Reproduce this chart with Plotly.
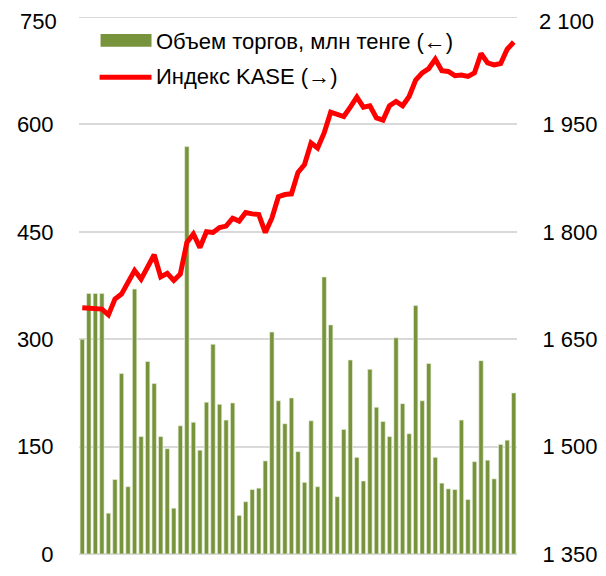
import plotly.graph_objects as go

# Trading volume, mln tenge (left axis)
volume = [300, 364, 364, 364, 57, 104, 252, 94, 370, 164, 269, 238, 164, 147, 64, 179, 569,
          184, 145, 212, 293, 209, 187, 211, 54, 73, 90, 92, 130, 310, 214, 182, 218,
          143, 100, 186, 94, 387, 320, 80, 174, 271, 135, 102, 258, 205, 185, 164, 302, 210,
          168, 347, 214, 266, 135, 99, 91, 90, 187, 76, 129, 270, 131, 105, 153, 159, 225]

# KASE index (right axis)
kase = [1694, 1693, 1692, 1692, 1684, 1706, 1713, 1730, 1746, 1734, 1753, 1768, 1737, 1742, 1732, 1741,
        1785, 1797, 1778, 1800, 1799, 1806, 1808, 1819, 1815, 1827, 1825, 1824, 1799, 1819, 1849, 1852,
        1853, 1883, 1894, 1924, 1917, 1938, 1967, 1964, 1961, 1974, 1988, 1974, 1976, 1959, 1956, 1976,
        1982, 1976, 1989, 2012, 2022, 2028, 2041, 2025, 2024, 2018, 2019, 2017, 2022, 2049, 2036, 2033,
        2035, 2055, 2065]

periods = list(range(1, len(volume) + 1))

left_ticks = [0, 150, 300, 450, 600, 750]
right_ticks = [1350, 1500, 1650, 1800, 1950, 2100]
left_range = [0, 750]
right_range = [1350, 2100]

bar_name = "Объем торгов, млн тенге (←)"
line_name = "Индекс KASE (→)"

BAR_COLOR = "#77933C"
LINE_COLOR = "#FF0000"
GRID = "#d9d9d9"
FONT = "Liberation Sans, Arial, sans-serif"
FS = 22

# page body has an 8px margin; figure is sized so the plot lands where the reference has it
OFF = 8
FIG_W, FIG_H = 606 - OFF, 576 - OFF
PL, PR, PT, PB = 73, 520, 17, 557  # plot area in window pixels
L, R, T, B = PL - OFF, 606 - PR, PT - OFF, 576 - PB
W, H = PR - PL, PB - PT

fig = go.Figure()
fig.add_trace(go.Bar(
    x=periods, y=volume, name=bar_name, yaxis="y",
    marker=dict(color=BAR_COLOR, line=dict(color="rgba(235,241,222,0.9)", width=0.7)),
    showlegend=False,
))
fig.add_trace(go.Scatter(
    x=periods, y=kase, name=line_name, yaxis="y2", mode="lines",
    line=dict(color=LINE_COLOR, width=5), showlegend=False,
))


def px(x):
    return (x - PL) / W


def py(y):
    return (PB - y) / H


def fmt(v):
    return f"{v:,}".replace(",", " ")


# Legend drawn manually (wide keys as in the reference)
fig.add_shape(type="rect", xref="paper", yref="paper",
              x0=px(95), x1=px(147), y0=py(47), y1=py(34),
              fillcolor=BAR_COLOR, line=dict(width=0))
fig.add_shape(type="line", xref="paper", yref="paper",
              x0=px(94), x1=px(147), y0=py(77.5), y1=py(77.5),
              line=dict(color=LINE_COLOR, width=5))
fig.add_annotation(xref="paper", yref="paper", x=px(150), y=py(42), xanchor="left", yanchor="middle",
                   text=bar_name, showarrow=False,
                   font=dict(size=FS, color="#000000", family=FONT))
fig.add_annotation(xref="paper", yref="paper", x=px(150), y=py(77), xanchor="left", yanchor="middle",
                   text=line_name, showarrow=False,
                   font=dict(size=FS, color="#000000", family=FONT))

# top gridline and top tick labels (plotly hides axis labels that touch the page edge)
fig.add_shape(type="line", xref="paper", yref="y", x0=0, x1=1, y0=left_range[1], y1=left_range[1],
              line=dict(color=GRID, width=2), layer="below")
fig.add_annotation(xref="paper", yref="paper", x=px(51), y=py(OFF + 0.5), xanchor="right", yanchor="top",
                   text=fmt(left_ticks[-1]), showarrow=False, borderpad=0, borderwidth=0,
                   font=dict(size=FS, color="#000000", family=FONT))
fig.add_annotation(xref="paper", yref="paper", x=px(542), y=py(OFF + 0.5), xanchor="left", yanchor="top",
                   text=fmt(right_ticks[-1]), showarrow=False, borderpad=0, borderwidth=0,
                   font=dict(size=FS, color="#000000", family=FONT))

fig.update_layout(
    width=FIG_W, height=FIG_H,
    margin=dict(l=L, r=R, t=T, b=B, pad=0),
    paper_bgcolor="white", plot_bgcolor="white",
    separators=", ",
    font=dict(family=FONT, size=FS, color="#000000"),
    bargap=0.33,
    xaxis=dict(range=[0.5, len(periods) + 0.5], showticklabels=False, showgrid=False,
               zeroline=False, showline=False, ticks=""),
    yaxis=dict(range=left_range, tickvals=left_ticks, showgrid=True, gridcolor=GRID, gridwidth=2,
               zeroline=True, zerolinecolor=GRID, zerolinewidth=2, showline=False,
               ticks="outside", ticklen=20, tickcolor="rgba(0,0,0,0)", tickformat=",d"),
    yaxis2=dict(range=right_range, tickvals=right_ticks, overlaying="y", side="right",
                showgrid=False, zeroline=False, showline=False,
                ticks="outside", ticklen=20, tickcolor="rgba(0,0,0,0)", tickformat=",d"),
)

fig.write_html("out.html", config={"displayModeBar": False})
